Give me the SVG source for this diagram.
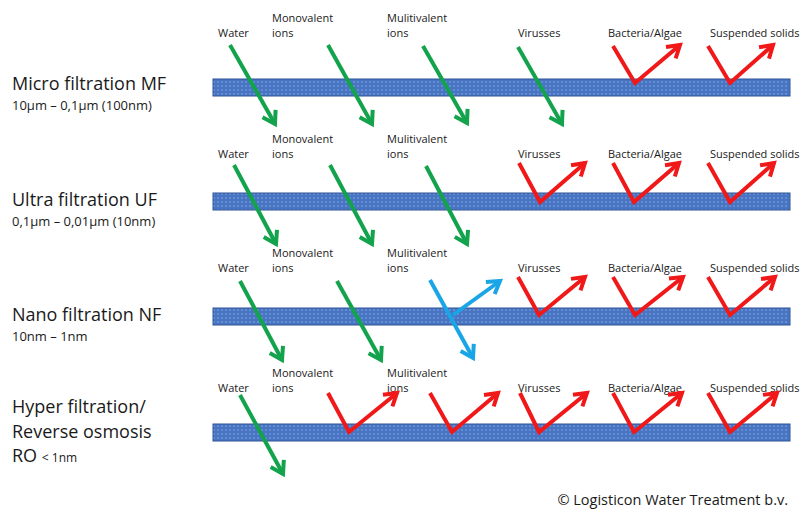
<svg xmlns="http://www.w3.org/2000/svg" width="802" height="509" viewBox="0 0 802 509">
<style>
  text { font-family: "Open Sans", "Liberation Sans", sans-serif; fill: #1a1a1a; }
  .lbl { font-size: 11px; }
  .big { font-size: 18px; }
  .sub { font-size: 13px; }
  .bar { fill: url(#dots); stroke: #2f5597; stroke-width: 1; }
  .g { fill: none; stroke: #12a34c; stroke-width: 4; marker-end: url(#ag); }
  .r { fill: none; stroke: #f01818; stroke-width: 4; stroke-linejoin: miter; marker-end: url(#ar); }
  .b { fill: none; stroke: #1aa5e6; stroke-width: 4; marker-end: url(#ab); }
</style>
<defs>
  <pattern id="dots" width="4" height="4" patternUnits="userSpaceOnUse">
    <rect width="4" height="4" fill="#4874c4"/>
    <circle cx="2" cy="2" r="0.7" fill="#9ab6e6"/>
  </pattern>
  <marker id="ag" markerUnits="userSpaceOnUse" markerWidth="20" markerHeight="20" refX="0" refY="0" viewBox="-16 -10 20 20" orient="auto" overflow="visible">
    <path d="M-12,-7.5 L0,0 L-12,7.5" fill="none" stroke="#12a34c" stroke-width="4"/>
  </marker>
  <marker id="ar" markerUnits="userSpaceOnUse" markerWidth="20" markerHeight="20" refX="0" refY="0" viewBox="-16 -10 20 20" orient="auto" overflow="visible">
    <path d="M-12,-7.5 L0,0 L-12,7.5" fill="none" stroke="#f01818" stroke-width="4"/>
  </marker>
  <marker id="ab" markerUnits="userSpaceOnUse" markerWidth="20" markerHeight="20" refX="0" refY="0" viewBox="-16 -10 20 20" orient="auto" overflow="visible">
    <path d="M-12,-7.5 L0,0 L-12,7.5" fill="none" stroke="#1aa5e6" stroke-width="4"/>
  </marker>
</defs>
<rect width="802" height="509" fill="#ffffff"/>

<g id="row-mf">
  <text class="big" x="12" y="90">Micro filtration MF</text>
  <text class="sub" x="12" y="110">10µm – 0,1µm (100nm)</text>
  <rect class="bar" x="213" y="79" width="577" height="17"/>
  <text class="lbl" x="218" y="37">Water</text>
  <text class="lbl" x="272" y="22">Monovalent</text>
  <text class="lbl" x="272" y="37">ions</text>
  <text class="lbl" x="387" y="22">Mulitivalent</text>
  <text class="lbl" x="387" y="37">ions</text>
  <text class="lbl" x="518" y="37">Virusses</text>
  <text class="lbl" x="608" y="37">Bacteria/Algae</text>
  <text class="lbl" x="710" y="37">Suspended solids</text>
</g>

<g id="row-uf">
  <text class="big" x="12" y="206">Ultra filtration UF</text>
  <text class="sub" x="12" y="226">0,1µm – 0,01µm (10nm)</text>
  <rect class="bar" x="213" y="193" width="577" height="17"/>
  <text class="lbl" x="218" y="158">Water</text>
  <text class="lbl" x="272" y="143">Monovalent</text>
  <text class="lbl" x="272" y="158">ions</text>
  <text class="lbl" x="387" y="143">Mulitivalent</text>
  <text class="lbl" x="387" y="158">ions</text>
  <text class="lbl" x="518" y="158">Virusses</text>
  <text class="lbl" x="608" y="158">Bacteria/Algae</text>
  <text class="lbl" x="710" y="158">Suspended solids</text>
</g>

<g id="row-nf">
  <text class="big" x="12" y="321">Nano filtration NF</text>
  <text class="sub" x="12" y="341">10nm – 1nm</text>
  <rect class="bar" x="213" y="308" width="577" height="17"/>
  <text class="lbl" x="218" y="272">Water</text>
  <text class="lbl" x="272" y="257">Monovalent</text>
  <text class="lbl" x="272" y="272">ions</text>
  <text class="lbl" x="387" y="257">Mulitivalent</text>
  <text class="lbl" x="387" y="272">ions</text>
  <text class="lbl" x="518" y="272">Virusses</text>
  <text class="lbl" x="608" y="272">Bacteria/Algae</text>
  <text class="lbl" x="710" y="272">Suspended solids</text>
</g>

<g id="row-ro">
  <text class="big" x="12" y="413">Hyper filtration/</text>
  <text class="big" x="12" y="438">Reverse osmosis</text>
  <text class="big" x="12" y="462">RO <tspan font-size="12">&lt; 1nm</tspan></text>
  <rect class="bar" x="213" y="424" width="577" height="17"/>
  <text class="lbl" x="218" y="392">Water</text>
  <text class="lbl" x="272" y="377">Monovalent</text>
  <text class="lbl" x="272" y="392">ions</text>
  <text class="lbl" x="387" y="377">Mulitivalent</text>
  <text class="lbl" x="387" y="392">ions</text>
  <text class="lbl" x="518" y="392">Virusses</text>
  <text class="lbl" x="608" y="392">Bacteria/Algae</text>
  <text class="lbl" x="710" y="392">Suspended solids</text>
</g>

<g id="connectors">
  <!-- MF -->
  <line class="g" x1="230" y1="45" x2="275" y2="124"/>
  <line class="g" x1="328" y1="45" x2="372" y2="124"/>
  <line class="g" x1="423" y1="46" x2="467" y2="123"/>
  <line class="g" x1="518" y1="47" x2="562" y2="124"/>
  <polyline class="r" points="613,46 635,83 680,45"/>
  <polyline class="r" points="708,46 730,83 773,45"/>
  <!-- UF -->
  <line class="g" x1="234" y1="165" x2="276" y2="244"/>
  <line class="g" x1="330" y1="165" x2="372" y2="244"/>
  <line class="g" x1="426" y1="166" x2="467" y2="244"/>
  <polyline class="r" points="519,163 540,202 585,163"/>
  <polyline class="r" points="613,163 634,202 679,163"/>
  <polyline class="r" points="708,163 730,202 774,163"/>
  <!-- NF -->
  <line class="g" x1="240" y1="281" x2="282" y2="360"/>
  <line class="g" x1="337" y1="281" x2="381" y2="360"/>
  <line class="b" x1="430" y1="280" x2="473" y2="358"/>
  <line class="b" x1="453" y1="315" x2="500" y2="281"/>
  <polyline class="r" points="518,277 539,315 585,277"/>
  <polyline class="r" points="613,277 635,315 683,277"/>
  <polyline class="r" points="708,277 730,315 775,277"/>
  <!-- RO -->
  <line class="g" x1="240" y1="395" x2="283" y2="474"/>
  <polyline class="r" points="328,393 349,432 397,393"/>
  <polyline class="r" points="430,393 452,432 498,393"/>
  <polyline class="r" points="520,393 539,432 587,393"/>
  <polyline class="r" points="613,393 634,432 682,393"/>
  <polyline class="r" points="708,393 730,432 777,393"/>
</g>

<text x="788" y="505" font-size="14.5" text-anchor="end">© Logisticon Water Treatment b.v.</text>
</svg>
